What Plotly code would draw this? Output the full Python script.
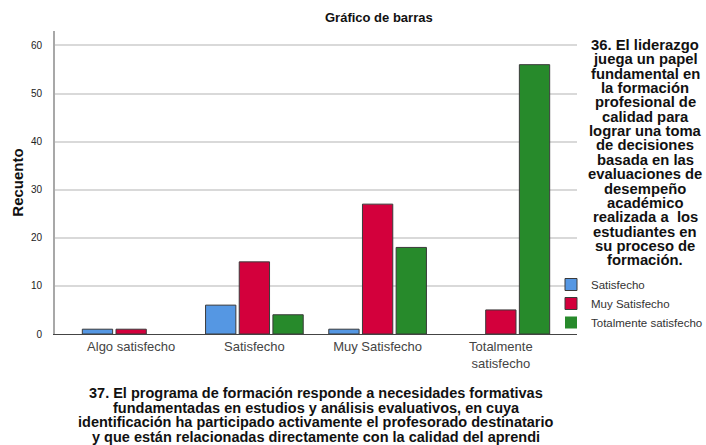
import plotly.graph_objects as go

categories = ["Algo satisfecho", "Satisfecho", "Muy Satisfecho", "Totalmente<br>satisfecho"]
series_names = ["Satisfecho", "Muy Satisfecho", "Totalmente satisfecho"]
satisfecho = [1, 6, 1, 0]
muy_satisfecho = [1, 15, 27, 5]
totalmente = [0, 4, 18, 56]
y_ticks = [0, 10, 20, 30, 40, 50, 60]

chart_title = "Gráfico de barras"
y_title = "Recuento"
legend_title_lines = ["36. El liderazgo", "juega un papel", "fundamental en", "la formación",
                      "profesional de", "calidad para", "lograr una toma", "de decisiones",
                      "basada en las", "evaluaciones de", "desempeño", "académico",
                      "realizada a  los", "estudiantes en", "su proceso de", "formación."]
x_title_lines = ["37. El programa de formación responde a necesidades formativas",
                 "fundamentadas en estudios y análisis evaluativos, en cuya",
                 "identificación ha participado activamente el profesorado destinatario",
                 "y que están relacionadas directamente con la calidad del aprendi"]

colors = ["#5597E3", "#D3003C", "#278A2B"]
values = [satisfecho, muy_satisfecho, totalmente]

FONT = "Liberation Sans, Arial, sans-serif"
W, H = 706, 445
# plot area in page pixels
P_LEFT, P_RIGHT, P_TOP, P_BOTTOM = 55, 577, 31, 334
ML, MT = P_LEFT, P_TOP
MR, MB = W - P_RIGHT, H - P_BOTTOM
PW, PH = P_RIGHT - P_LEFT, P_BOTTOM - P_TOP

fig = go.Figure()
for name, vals, col in zip(series_names, values, colors):
    fig.add_trace(go.Bar(
        x=categories, y=vals, name=name,
        marker=dict(color=col,
                    line=dict(color="#3a3a3a", width=[0 if v == 0 else 1 for v in vals])),
    ))

annotations = [
    dict(text="<b>" + chart_title + "</b>", xref="paper", yref="paper", x=0, y=0,
         xanchor="left", yanchor="middle", xshift=323 - P_LEFT, yshift=P_BOTTOM - 17,
         showarrow=False, font=dict(size=13, color="#111", family=FONT)),
]
for i, line in enumerate(legend_title_lines):
    annotations.append(dict(
        text="<b>" + line + "</b>", xref="paper", yref="paper", x=0, y=0,
        xanchor="center", yanchor="middle", xshift=645 - P_LEFT,
        yshift=P_BOTTOM - (45 + i * 14.35),
        showarrow=False, font=dict(size=14.8, color="#111", family=FONT)))
for i, line in enumerate(x_title_lines):
    annotations.append(dict(
        text="<b>" + line + "</b>", xref="paper", yref="paper", x=0.5, y=0,
        xanchor="center", yanchor="middle", yshift=P_BOTTOM - (393 + i * 14.5),
        showarrow=False, font=dict(size=14.5, color="#111", family=FONT)))

fig.update_layout(
    width=W, height=H,
    margin=dict(l=ML, r=MR, t=MT, b=MB, autoexpand=False),
    paper_bgcolor="white", plot_bgcolor="white",
    font=dict(family=FONT, color="#222"),
    bargap=0.18, bargroupgap=0.1,
    showlegend=True,
    legend=dict(x=(551 - P_LEFT) / PW, y=(P_BOTTOM - 270) / PH,
                xanchor="left", yanchor="top",
                font=dict(size=11.5, color="#333", family=FONT), tracegroupgap=0,
                itemwidth=30, bgcolor="rgba(0,0,0,0)", traceorder="normal"),
    xaxis=dict(type="category", range=[-0.618, 3.618], automargin=False,
               showline=True, linecolor="#444", linewidth=1, ticks="",
               tickfont=dict(size=13, color="#444", family=FONT), showgrid=False),
    yaxis=dict(range=[0, 63], tickvals=y_ticks, automargin=False, showgrid=True,
               gridcolor="#d9d9d9", gridwidth=2, showline=True, linecolor="#a8a8a8",
               linewidth=2, ticks="", ticklabelstandoff=9,
               tickfont=dict(size=10, color="#222", family=FONT), zeroline=False,
               title=dict(text="<b>" + y_title + "</b>",
                          font=dict(size=15, color="#111", family=FONT), standoff=4)),
    annotations=annotations,
)

fig.write_html("out.html", config={"displayModeBar": False},
               post_script="document.body.style.margin='0px';document.body.style.overflow='hidden';")
